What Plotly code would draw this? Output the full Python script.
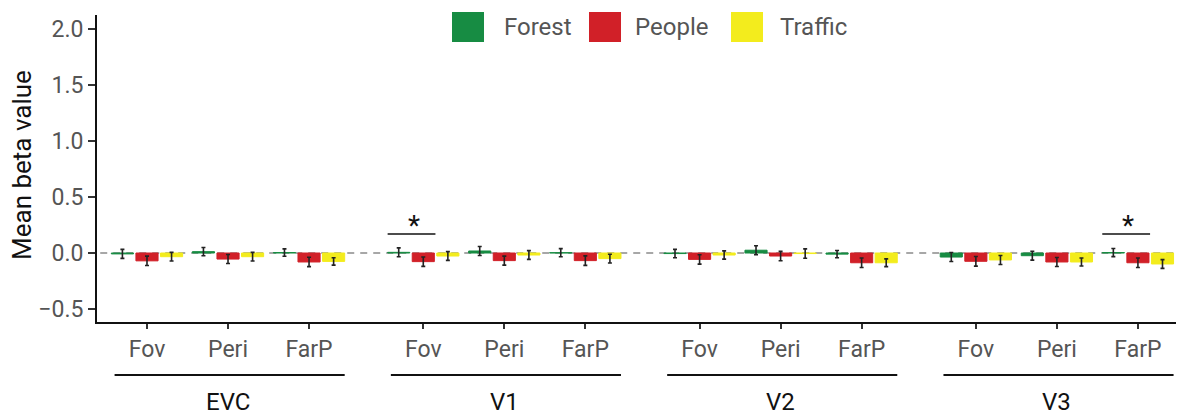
import plotly.graph_objects as go

# ---------------- data ----------------
regions = ["EVC", "V1", "V2", "V3"]
subregions = ["Fov", "Peri", "FarP"]
conditions = ["Forest", "People", "Traffic"]

# values ordered EVC(Fov,Peri,FarP), V1(...), V2(...), V3(...)
forest_mean = [-0.008, 0.012, 0.004, 0.006, 0.018, 0.003, -0.005, 0.025, -0.010, -0.036, -0.024, 0.004]
people_mean = [-0.070, -0.054, -0.080, -0.077, -0.068, -0.068, -0.057, -0.027, -0.087, -0.074, -0.080, -0.087]
traffic_mean = [-0.033, -0.033, -0.075, -0.027, -0.018, -0.050, -0.018, -0.005, -0.087, -0.062, -0.080, -0.098]

forest_err = [0.040, 0.037, 0.033, 0.040, 0.040, 0.036, 0.037, 0.040, 0.033, 0.040, 0.040, 0.036]
people_err = [0.042, 0.040, 0.042, 0.042, 0.040, 0.042, 0.042, 0.042, 0.042, 0.043, 0.040, 0.042]
traffic_err = [0.039, 0.039, 0.033, 0.039, 0.039, 0.039, 0.037, 0.042, 0.035, 0.040, 0.036, 0.039]

# significant comparisons (Forest vs People): (region index, subregion index)
significant = [(1, 0), (3, 2)]
sig_label = "*"

y_ticks = [-0.5, 0.0, 0.5, 1.0, 1.5, 2.0]
y_tick_text = ["\u22120.5", "0.0", "0.5", "1.0", "1.5", "2.0"]

colors = {"Forest": "#178c43", "People": "#d12028", "Traffic": "#f3ec1d"}

# ---------------- layout helpers ----------------
W, H = 1182, 417
ML, MR, MT, MB = 97, 6, 15, 95
PW, PH = W - ML - MR, H - MT - MB

REGION_STEP = 3.41
xs = [r * REGION_STEP + k for r in range(len(regions)) for k in range(len(subregions))]
x_range = [-0.617, (len(regions) - 1) * REGION_STEP + 2 + 0.47]


def px_x(p):
    return (p - ML) / PW


def px_y(p):
    return (H - MB - p) / PH


FONT = "Roboto, Liberation Sans, Arial, sans-serif"

fig = go.Figure()
for name, mean, err in [("Forest", forest_mean, forest_err),
                        ("People", people_mean, people_err),
                        ("Traffic", traffic_mean, traffic_err)]:
    fig.add_trace(go.Bar(
        x=xs, y=mean, name=name,
        marker=dict(color=colors[name], line=dict(color=colors[name], width=1)),
        error_y=dict(type="data", array=err, color="#222222", thickness=1.6, width=2),
        showlegend=False,
    ))

shapes = []
annotations = []

# dashed zero line
shapes.append(dict(type="line", xref="paper", yref="y", x0=0.003, x1=1, y0=0, y1=0,
                   line=dict(color="#8a8a8a", width=1.5, dash="7px,6px"), layer="below"))

# region underlines and labels
for r, reg in enumerate(regions):
    x0 = xs[r * 3] - 0.4
    x1 = xs[r * 3 + 2] + 0.44
    shapes.append(dict(type="line", xref="x", yref="paper", x0=x0, x1=x1,
                       y0=px_y(375), y1=px_y(375), line=dict(color="#111111", width=2)))
    annotations.append(dict(x=xs[r * 3 + 1], y=px_y(402), xref="x", yref="paper",
                            text=reg, showarrow=False, xanchor="center", yanchor="middle",
                            font=dict(family=FONT, size=24, color="#111111")))

# significance markers
for r, k in significant:
    xc = xs[r * 3 + k]
    shapes.append(dict(type="line", xref="x", yref="y", x0=xc - 0.44, x1=xc + 0.15,
                       y0=0.17, y1=0.17, line=dict(color="#111111", width=1.5)))
    annotations.append(dict(x=xc - 0.12, y=0.17, xref="x", yref="y", text=sig_label,
                            showarrow=False, xanchor="center", yanchor="bottom", yshift=-10,
                            font=dict(family=FONT, size=28, color="#111111")))

# manual legend
legend_items = [("Forest", 452, 502), ("People", 589, 633), ("Traffic", 731, 778)]
for name, sx, tx in legend_items:
    shapes.append(dict(type="rect", xref="paper", yref="paper",
                       x0=px_x(sx), x1=px_x(sx + 32), y0=px_y(42), y1=px_y(12),
                       fillcolor=colors[name], line=dict(width=0)))
    annotations.append(dict(x=px_x(tx), y=px_y(27), xref="paper", yref="paper", text=name,
                            showarrow=False, xanchor="left", yanchor="middle",
                            font=dict(family=FONT, size=24, color="#555555")))

# y-axis title
annotations.append(dict(x=0, y=px_y(165), xref="paper", yref="paper", text="Mean beta value",
                        showarrow=False, textangle=-90, xanchor="center", yanchor="middle",
                        xshift=22 - ML, font=dict(family=FONT, size=26, color="#111111")))

fig.update_layout(
    width=W, height=H,
    margin=dict(l=ML, r=MR, t=MT, b=MB, pad=0),
    plot_bgcolor="white", paper_bgcolor="white",
    barmode="group", bargap=0.09, bargroupgap=0.1,
    shapes=shapes, annotations=annotations,
    font=dict(family=FONT),
    xaxis=dict(range=x_range, tickvals=xs, ticktext=[s for _ in regions for s in subregions],
               ticks="outside", ticklen=5, tickwidth=1.5, tickcolor="#333333",
               showline=True, linecolor="#111111", linewidth=2, showgrid=False, zeroline=False,
               tickfont=dict(family=FONT, size=23, color="#555555")),
    yaxis=dict(range=[-0.616, 2.125], tickvals=y_ticks, ticktext=y_tick_text,
               ticks="outside", ticklen=7, tickwidth=1.5, tickcolor="#333333",
               showline=True, linecolor="#111111", linewidth=2, showgrid=False, zeroline=False,
               tickfont=dict(family=FONT, size=23, color="#555555")),
)

fig.write_html("out.html", config={"displayModeBar": False},
               post_script="document.body.style.margin='0';document.body.style.overflow='hidden';")
